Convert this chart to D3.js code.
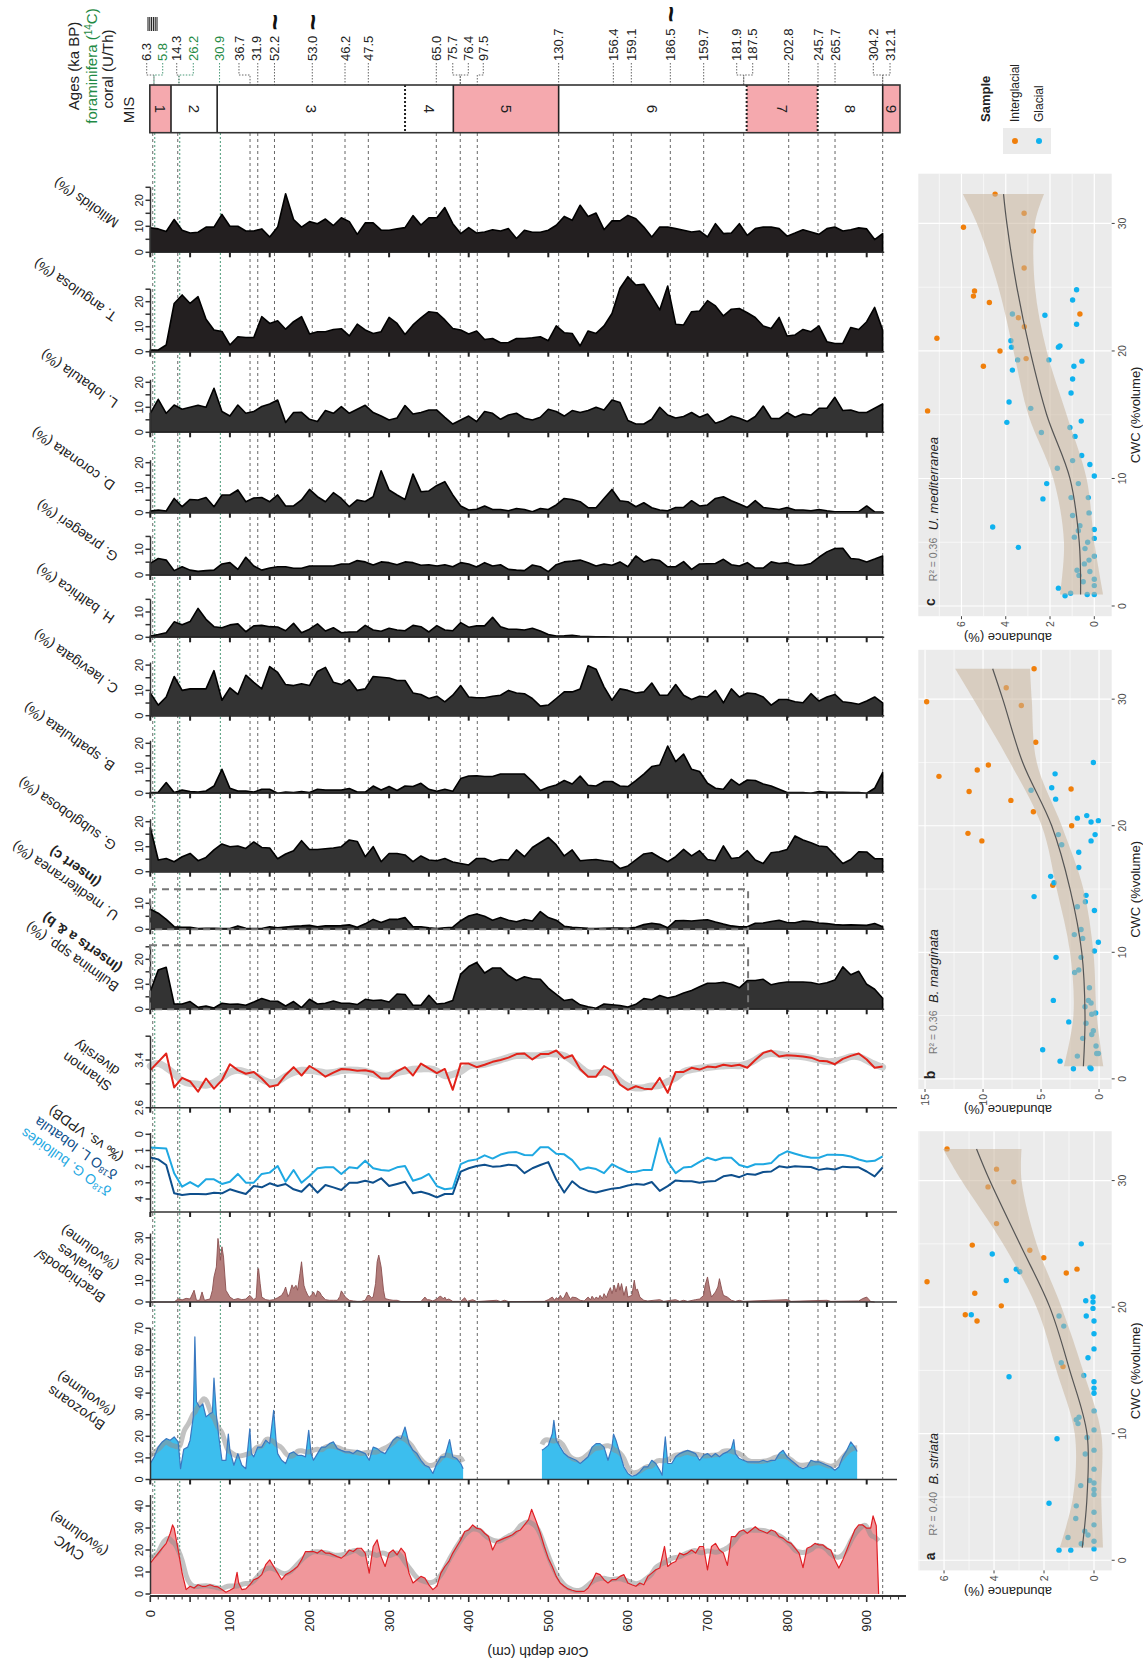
<!DOCTYPE html>
<html>
<head>
<meta charset="utf-8">
<script src="https://cdnjs.cloudflare.com/ajax/libs/d3/7.8.5/d3.min.js"></script>
<style>
  body { margin: 0; background: #fff; }
  svg { display: block; font-family: "Liberation Sans", Arial, Helvetica, sans-serif; }
</style>
</head>
<body>
<svg id="chart" width="1143" height="1661"></svg>
<script>
// ---------- data ----------
// foraminifera / Shannon / d18O sample depths (cm)
var foramDepth = [0,10,20,30,40,50,60,70,80,90,100,110,120,130,140,150,160,170,180,190,200,210,220,230,240,250,260,270,280,290,300,310,320,330,340,350,360,370,380,390,400,410,420,430,440,450,460,470,480,490,500,510,520,530,540,550,560,570,580,590,600,610,620,630,640,650,660,670,680,690,700,710,720,730,740,750,760,770,780,790,800,810,820,830,840,850,860,870,880,890,900,910,920];

var miliolids = [9.4,9,8,12.6,8.5,7.4,7.7,9.7,9.7,14.6,10,10,8.2,8.2,9,5.9,9.7,22.5,12.6,9.7,11.8,11,12.8,10.3,13.3,11.8,6.9,11.3,11.3,8.5,8.5,9,9.5,14.1,10.5,13.3,13.3,17.2,11,7.2,9.5,7.4,7.8,8.7,8.2,9.1,5.3,8.5,7.7,7.7,8.5,10.4,13.8,12.3,18.1,13.8,15.1,8.7,12.1,12.1,14.2,12.9,9.7,5.9,9.7,9.7,9.1,8.5,7.8,8.2,5.9,11,7.2,7.4,11,6.5,9.1,9.7,9.7,9.1,6.2,7.4,8.7,7.8,6.9,9.1,9.7,8.2,8.7,9.4,9,4.9,7.2];
var tAngulosa = [0.7,0.7,2.7,19.3,22.7,19.3,22,13,8.7,8.1,2.7,6,5.7,5.7,14,11.3,12.4,9,12,14,7.1,8,8,8.9,9.2,6.3,11,8.7,7.3,8,13.7,11.3,6.9,10.7,13.5,16,15.6,12.7,9.3,8.7,7.1,8.3,4.9,5.3,3.6,3.7,5.3,5.3,5.6,6,4.4,10.3,7.6,7.3,2.3,8.3,7.3,10.3,15.3,25.3,30,26.7,27,22,16.7,26.3,11,10.7,16,16.3,20.4,18.3,14.3,17,17.3,15.6,13.7,10.3,9.3,13.7,6.3,6.7,8.9,8,10.3,4,3.3,3.3,9.7,8.9,12,17.7,8.7];
var lLobatula = [7.6,13.2,7.6,10.9,9.2,10,10.8,10,17.6,8.3,6.5,10.9,7.6,8.3,10.3,11.3,12.9,3.9,7.9,8,5.2,4.3,8.7,7.6,10.3,7.6,9.2,10.8,7.9,6.5,4.9,5.7,10.7,7.3,7.9,8.9,8.9,6,3.3,4.9,6.5,4.3,8.3,7.6,5.2,6.9,7.6,5.6,4.9,6,9.2,8.3,6.5,8.7,7.9,8.7,10,8.9,12.9,11.9,4.7,3.3,3.3,5.2,10,6.9,5.7,6.3,7.9,6,7.3,3.6,4.7,6.5,5.6,4.3,6.3,10.5,5.5,5.5,7.9,6,7.3,6.9,9.6,9.6,14,8.7,8.9,7.9,7.9,9.6,11.3];
var dCoronata = [0.7,1.1,0.7,5.7,2.4,5.3,5.1,6.1,2.4,7.1,7.1,9.1,4.4,5.9,6.1,4.4,7.1,2.7,2.7,5.1,9.3,6.4,4.4,8,5.7,2.4,5.1,4.5,6.4,16.8,9.1,7.1,5.3,15.5,8.4,8.7,10.9,12.4,7.1,2.7,1.1,1.4,2.7,1.3,1.3,0.8,1.7,1.3,0.4,1.7,1.3,3.1,5.7,5.3,4.4,2,2,5.7,9.3,4.8,4.4,2.4,4,2,1.1,0.8,2.1,2.1,4.8,2.7,3.1,5.7,6.4,4.8,3.5,2.1,4.8,2.1,1.7,1.3,2.1,1.1,1.1,0.8,1.3,0.8,0.4,0.4,0.4,0.4,2.7,0.3,0.3];
var gPraegeri = [4.5,6.4,5.8,1.7,3.2,1.9,1.4,1.7,1.9,4.3,4.8,2.2,6.9,3.5,1.9,2.7,3.2,3.2,2.6,2.6,3.5,3.5,3.5,3.5,4.3,4.3,5.6,5.1,3.9,5.1,4.8,4,5.1,4.8,3.8,4,3.5,4,3.2,4.8,4.3,3.1,4.8,3.5,4,2.2,1.9,1.7,3.9,3.2,1.3,4,5.1,5.4,5.8,4.8,3.5,4.3,3.8,5.1,3.2,7.4,5.1,6.1,5.6,3.2,3.2,5.2,2.2,4.3,4.4,4.5,6.1,4,3.5,4.8,2.7,2.7,5.1,4.5,4.8,3.8,3.8,4.5,6.9,9,10.3,10.4,6.4,6.1,5.1,6.2,7.4];
var hBalthica = [0.5,1.1,1.8,6.1,5,6.2,11.4,7.1,4.2,3.8,4.9,5.3,2.2,4.5,4.7,4.2,4.1,2.6,5.5,1.8,3.2,5.3,2.5,3.8,1.8,2.1,2.2,4.7,2.9,2.4,3.6,2.9,2.6,4.7,4.2,2.1,4.6,2.9,2.6,5.8,4,4.5,4.5,7.9,4.2,3.2,3.2,2.9,3.6,2.5,1.1,0.5,0.6,0.8,0.4,0.3,0.2,0.2,0.1,0,0,0,0,0,0,0,0,0,0,0,0,0,0,0,0,0,0,0,0,0,0,0,0,0,0,0,0,0,0,0,0,0,0];
var cLaevigata = [9,4.2,7.4,15.5,10,10.6,10.6,10.6,17.8,6.1,11,8.4,16,13.2,10.6,19.4,17.1,12.3,11.9,12.6,11.9,17.5,19.1,13.2,12.3,14.2,10,10.6,15.5,15.2,14.9,13.9,13.9,9,8.4,6.8,7.7,5.5,8.1,11.9,7.4,7.1,7.1,7.7,8.1,10,9,8.7,6.8,3.8,4.2,6.8,9.4,9.4,10.6,19.7,18.4,11.4,6.1,10.6,10,9,9.4,12.9,8.1,8.1,12.3,8.1,6.4,7.7,7.4,10,5.1,10.6,7.4,9,8.7,7.4,4.2,6.4,6.4,5.5,5.1,8.7,5.8,7.4,8.4,5.5,5.1,4.5,5.8,7.4,5.1];
var bSpathulata = [0.3,0.4,4.3,0.3,1.3,0.7,0.5,0.9,2.9,9.6,2,0.9,0.9,0.5,1.6,1.6,0,0.5,0.3,0.7,0.3,1.6,1.3,1.3,1.3,1.9,0.5,0.5,2.9,1.3,2.7,1.1,2.9,2.7,4,1.6,0.8,1.6,0.8,5.9,6.9,7,6.7,6.7,7.7,7.7,7.7,7.7,4.7,1.1,2.4,3.3,5.1,3.7,6.9,3.2,2.9,4.7,4.7,2.9,2.7,5.1,7.7,10.7,11.3,18.9,12.7,15.7,9.6,8.7,4,2,1.6,5.6,3.3,5.3,5.1,3.7,2.9,1.6,0.3,0.3,0.3,0,0.7,0.4,0.4,0.4,0.3,0.3,0,2,8.3];
var gSubglobosa = [17.7,4.7,5.3,4,6,7.3,4.4,5.7,8.7,11.1,10,10.3,9.3,11.9,9.7,9.5,5.2,7.1,8.4,12.4,8.9,8.9,9.2,9.5,10,12.7,12.1,6,10,4,7.3,7.3,6.7,4,6.3,4.7,4.4,5.3,3.9,3.3,2.7,5.3,5.3,4,4.9,4.7,8.7,6,9.7,11.7,13.7,10.7,6.3,8.7,4.4,4.7,4.9,4.4,4,1.3,2.3,4.7,7.1,7.6,5.7,4,6,8.9,6.3,8.4,4.9,4.4,10.3,5.3,5.7,8.4,4.7,3.3,7.6,8,8.9,14.3,12.7,11.6,10.3,10,6.7,3.3,4.9,8,7.9,5.2,5.2];
var uMediterranea = [7.7,6.2,3.8,1,0.8,0.8,0.3,0.4,0.4,0.3,0.3,1.3,0.4,0.3,0.3,1,0.6,0.9,1.2,1.3,1.5,1,1.3,1.3,1.4,1.7,0.8,2.1,3.8,2.6,3.8,3.8,4.5,1,1,0.6,0.3,0.6,0.8,3.3,5.1,5.9,5,3.5,4.5,3.5,2.9,3.8,3.2,6.8,4.5,3.5,1.2,0.8,0.6,0.4,0.3,0.4,0.5,0.5,0.4,0.8,1.8,2.3,1.9,0.6,3.3,3.4,3.2,3.5,3.7,2.8,2,1.3,1,1,2.3,2.4,3,3.5,2.6,2.5,3.2,3,2.4,2.2,1.8,1.6,1.7,1.6,1.5,2.2,1];
var bulimina = [7.1,15.7,16.8,2.1,2.1,3.1,0.8,1.3,0.5,2.4,2,2.1,1.6,2.9,4.3,3.3,3.2,1.3,3.1,0.7,4,2.1,2.4,3.3,2.4,2.4,1.9,4,3.5,3.7,2.9,6.1,5.9,1.6,1.6,5.6,2.1,2.4,3.5,14.1,17.1,18.7,14.5,16.5,16.5,13.5,11.5,13,12.2,12,8.5,6,3.5,4,1.8,1,0.4,2.1,1.8,1.5,0.9,2,4.3,3.8,5.5,4.5,5.2,6.5,7.5,9,10.4,10.4,10.8,10,8.6,11.5,11.5,12,9.8,10.5,10.9,10.9,10.9,10.7,10,10.6,11.7,17,13.8,15.2,10,8,4.4];
var shannon = [3.23,3.37,3.51,2.94,3.1,3.04,2.87,3.09,2.92,3.06,3.33,3.23,3.17,3.2,3.09,2.95,2.98,3.15,3.28,3.14,3.3,3.22,3.12,3.19,3.25,3.24,3.22,3.23,3.2,3.09,3.09,3.21,3.28,3.14,3.34,3.26,3.18,3.25,2.9,3.34,3.34,3.28,3.32,3.37,3.4,3.44,3.5,3.51,3.41,3.5,3.5,3.56,3.43,3.48,3.25,3.12,3.12,3.3,3.22,2.99,2.9,2.96,2.92,2.91,3.1,2.85,3.2,3.2,3.27,3.24,3.29,3.28,3.32,3.3,3.32,3.27,3.4,3.52,3.56,3.46,3.48,3.47,3.46,3.44,3.39,3.38,3.33,3.42,3.47,3.51,3.41,3.27,3.29];
var d18oBulloides = [0.82,0.85,0.88,2.41,3.24,2.95,3.24,2.78,2.78,3.07,2.93,2.45,2.99,2.99,2.45,2.37,1.96,2.93,2.21,2.99,2.58,2.1,2.04,2.04,2.45,2.04,2.1,1.63,2.1,2.21,2.25,2.04,1.96,2.87,2.72,2.45,3.2,3.4,3.34,1.84,1.63,1.55,1.3,1.5,1.25,1.13,1.1,1.28,1.3,0.8,0.8,1.2,1.24,1.6,2.2,2.05,2.15,2.4,1.85,2.1,2.33,2.32,2.2,2.2,0.25,1.7,2.4,2.05,2,1.7,1.45,1.6,1.45,1.45,1.9,2.04,1.85,1.85,1.78,1.3,1.05,1.2,1.34,1.45,1.45,1.27,1.27,1.28,1.37,1.56,1.68,1.64,1.36];
var d18oLobatula = [1.44,1.55,1.9,3.65,3.75,3.69,3.69,3.71,3.61,3.65,3.4,3.55,3.69,3.2,3.28,3.03,3.2,3.07,3.4,3.55,3.07,3.61,3.13,3.28,3.44,2.99,2.99,2.87,2.99,2.72,3.2,3.07,2.93,3.65,3.55,3.69,3.9,3.69,3.69,2.31,2.1,1.96,1.88,2,1.98,1.88,1.93,2.4,2.1,1.9,1.72,2.8,3.6,2.9,3.3,3.5,3.6,3.47,3.36,3.3,3.17,3.08,3.12,2.95,3.5,3.2,2.85,2.9,2.9,3,2.92,2.88,2.6,2.52,2.65,2.45,2.5,2.33,2.3,1.98,2.05,1.98,2,2.02,2.2,2.12,2.18,2,2.03,2.04,2.3,2.6,2.05];

// [depth cm, %volume]
var cwc = [[0,14],[5,16.3],[10,18.6],[15,20.8],[20,23],[25,27.6],[28,31.4],[30,29.9],[35,20],[40,9.5],[45,2],[50,3.5],[55,2.7],[60,4.2],[65,3.5],[70,3.5],[75,4.2],[80,3.5],[85,3.2],[90,2],[95,0.8],[100,1.7],[105,2.7],[109,9.8],[111,5],[115,2],[120,2.3],[125,4.2],[130,6.5],[135,7.2],[140,8.8],[145,13.3],[150,15.5],[155,12.5],[160,9.5],[165,6.5],[170,8.8],[175,9.8],[180,11],[185,12.5],[190,15.5],[195,19.3],[200,19.3],[205,19.3],[210,18.6],[215,20],[220,18.6],[225,18.6],[230,17.8],[235,17],[240,16.3],[245,17.8],[250,20],[255,19.3],[260,20.8],[265,20.8],[270,18.6],[275,9.5],[280,21.6],[285,24.6],[290,17],[295,12.5],[300,18.6],[305,20],[310,17.8],[315,20.8],[320,18.6],[325,9.5],[330,5],[335,6.5],[340,8],[345,7.2],[350,4.2],[355,2],[360,3.5],[365,9.5],[370,12.5],[375,14.8],[380,18.6],[385,21.6],[390,24.6],[395,28.4],[400,29.1],[405,31.4],[410,29.9],[415,29.5],[420,27.6],[425,26.1],[430,20],[435,23.8],[440,24.6],[445,25.4],[450,26.1],[455,26.9],[460,28.4],[465,29.1],[470,31.4],[475,33.7],[479,38.5],[485,32.9],[490,27.6],[495,21.6],[500,16.3],[505,12.5],[510,8],[515,5],[520,3.5],[525,2.3],[530,1.7],[535,1.2],[540,1.2],[545,1.2],[550,2.7],[555,5.7],[560,9.5],[565,8.8],[570,6.5],[575,5],[580,6.5],[585,6.5],[590,8],[595,8.8],[600,5],[605,4.2],[610,3.5],[615,5],[620,4.2],[625,8],[630,9.5],[635,11],[640,11.8],[646,21.6],[650,12.5],[655,14],[660,14.8],[665,18.6],[670,17.8],[675,18.6],[680,20],[685,18.6],[690,21.6],[695,21.6],[700,11],[705,21.6],[710,23],[715,20],[720,18.6],[725,13],[730,26.1],[735,26.1],[740,28.4],[745,29.1],[750,27.6],[755,29.1],[760,30.6],[765,29.1],[770,28.4],[775,27.6],[780,29.1],[785,28.4],[790,26.1],[795,25.4],[800,23.8],[805,23],[810,20.8],[815,18.6],[820,12],[825,20.8],[830,21.6],[835,23],[840,22.3],[845,22.3],[850,20.8],[855,20],[860,15.5],[865,11.8],[870,15.5],[875,20],[880,24.6],[885,29.1],[890,31.4],[895,31.4],[900,29.9],[905,29.9],[908,35.5],[912,31],[915,0]];

var bryozoans = [[0,7.4],[5,10.5],[10,15],[15,17.4],[20,18.9],[25,18.2],[30,19.7],[35,17.4],[38,5],[42,14],[47,15],[50,18.2],[54,29],[56,66],[58,36],[62,33.5],[66,35],[70,29],[75,30.5],[78,31],[80,47],[83,30],[86,20],[90,8.9],[95,8.9],[98,21],[100,13.5],[105,6.6],[110,12],[115,6.6],[120,5],[125,23.5],[127,12],[130,10.5],[135,15],[140,15],[145,18.2],[150,16.6],[155,32],[158,18],[160,12],[165,8.9],[170,7.4],[175,12],[180,12.8],[185,11.2],[190,11.2],[195,10.5],[199,22.8],[202,12],[205,8.9],[210,12],[215,15],[220,15],[225,16.6],[230,17.4],[235,14.3],[240,13.5],[245,12.8],[250,12.8],[255,12],[260,13.5],[265,12.8],[270,12],[275,8.9],[280,15],[285,14.3],[290,12.8],[295,12],[300,15],[305,18.2],[310,19.7],[315,18.9],[320,24.3],[325,16.6],[330,13.5],[335,12],[340,8.9],[345,6.6],[350,5.8],[355,2.8],[360,7.4],[365,10.5],[370,10.5],[376,18.5],[380,10.5],[385,9.7],[390,7.4],[393,5],[440,null],[492,13.5],[495,14.3],[500,15.8],[505,21.2],[507,27.4],[510,18.2],[515,15],[520,12],[525,10.5],[530,9.7],[535,8.9],[540,7.4],[545,8.9],[550,10.5],[555,15],[560,16.6],[565,16.6],[570,15],[575,8.9],[580,15],[582,21],[585,18.2],[590,12],[595,5.8],[600,2.8],[605,1.5],[610,2],[615,3.5],[620,5.8],[625,5.8],[630,8.9],[635,7.4],[640,4.3],[643,2],[645,12],[647,19.7],[650,7.4],[655,7.4],[660,10.5],[665,12],[670,12.8],[675,13.5],[680,12.8],[685,12],[690,8.9],[695,11.2],[700,12],[705,10.5],[710,12],[715,10.5],[720,12],[725,12.8],[730,14.3],[733,18.5],[735,12],[740,9.7],[745,8.9],[750,8.2],[755,8.2],[760,8.2],[765,8.2],[770,8.9],[775,8.2],[780,8.9],[785,8.9],[790,12],[795,13.5],[800,10.5],[805,8.9],[810,7.4],[815,5.8],[820,5],[825,5.8],[830,8.9],[835,8.2],[840,8.2],[845,7.4],[850,6.6],[855,5.8],[860,4.3],[865,5.8],[870,10.5],[875,13.5],[880,17.4],[885,15],[888,13]];

var brachiopods = [[0,0],[30,0],[35,1.5],[40,1],[45,1.7],[50,1.4],[55,5.5],[58,0.8],[62,0.8],[65,4.7],[68,0.8],[75,1.4],[78,5.5],[80,11.7],[83,16.4],[85,29.7],[87,24.2],[88,19.5],[90,25.8],[92,21],[95,5.5],[100,2.3],[105,1.1],[110,1.6],[115,1.1],[120,1.4],[125,3.1],[130,1.1],[133,2],[135,14.8],[136,15.6],[138,8.6],[140,2.3],[145,1.1],[150,0.8],[155,1.1],[160,2],[165,3.1],[168,5],[170,7],[173,2.5],[175,3.9],[178,8],[180,6.3],[183,7.8],[185,5.5],[188,13.3],[190,18.8],[193,7.8],[195,5.5],[198,3],[200,2.3],[203,3.5],[205,4.7],[208,2.5],[210,5.2],[213,4.5],[215,3.1],[220,1.1],[225,0.8],[230,0.8],[235,0.8],[238,2.5],[240,5.2],[243,3.5],[245,2.3],[250,0.8],[255,0.5],[260,0.3],[265,0.3],[270,0.8],[273,3],[275,3.1],[278,2],[280,2.3],[283,8.6],[285,18.8],[287,21.9],[290,16.4],[293,5.5],[295,1.6],[300,1.1],[305,0.8],[310,0.8],[315,0.2],[340,0.2],[343,1.5],[345,2.3],[348,1],[350,1.1],[355,0.5],[360,1.4],[363,2.5],[365,2.7],[368,1.5],[370,2.3],[372,1],[375,1.4],[380,0.3],[390,0.3],[395,2],[398,0.3],[405,1.1],[410,0.2],[435,0.8],[440,0.2],[445,0.8],[450,0.2],[495,0.3],[500,1.1],[505,2.3],[508,0.8],[510,2],[513,1.2],[515,3.1],[518,1.5],[520,2.3],[523,4.7],[525,3.1],[528,1.2],[530,2.3],[535,2],[540,0.8],[545,0.5],[550,2.3],[553,1],[555,2.7],[558,1.2],[560,2.3],[563,1.5],[565,3.1],[568,1.5],[570,3.9],[573,2],[575,4.2],[578,6.7],[580,3.9],[583,7.8],[585,4.7],[588,8.9],[590,5.5],[592,8.6],[595,3.1],[598,7.3],[600,2.3],[605,3.1],[608,10.2],[610,5.5],[612,6],[615,2.3],[620,0.8],[625,0.5],[640,1.1],[645,0.3],[660,1.1],[665,0.3],[670,0.8],[675,0.3],[685,1.1],[690,1.4],[695,3],[697,7.8],[700,11.7],[703,5.5],[705,2.3],[710,4.7],[713,7],[715,10.9],[718,5.8],[720,3.1],[725,2.3],[730,0.8],[735,0.3],[740,0.8],[745,0.3],[800,1.1],[805,0.3],[850,0.8],[855,0.3],[890,0.5],[895,1.6],[900,2.3],[903,1.1],[905,0.2],[910,0]];

// ages (ka BP) header
var ageLabels = ['6.3','5.8','14.3','26.2','30.9','36.7','31.9','52.2','53.0','46.2','47.5','65.0','75.7','76.4','97.5','130.7','156.4','159.1','186.5','159.7','181.9','187.5','202.8','245.7','265.7','304.2','312.1'];
var ageLabelDepth = [-4.5,15.6,33.2,54,86.3,111.4,133.7,156,203.5,244.6,273.9,359.3,380,399.5,418.3,513,581.7,604.3,653.3,695.2,736.7,756.8,802,838.8,860.2,908.3,929.3];
var ageTieDepth = [4.6,4.6,36,36,87,125.3,135,156,203.5,244.6,273.9,359.3,389.4,389.4,410.8,513,581.7,604.3,653.3,695.2,745.5,745.5,802,838.8,860.2,920.1,920.1];
var ageForam = [0,1,0,1,1,0,0,0,0,0,0,0,0,0,0,0,0,0,0,0,0,0,0,0,0,0,0];
var approxAges = ['52.2','53.0','186.5'];

// marine isotope stages
var misLabels = ['1','2','3','4','5','6','7','8','9'];
var misBounds = [-0.6,26,84,320,380.7,513,749.2,838.4,920.1,941.8];
var misWarm = [1,0,0,0,1,0,1,0,1];
var misDotted = [0,0,1,0,0,1,1,0];

// inset scatter data: [CWC %volume, abundance %, I=interglacial / G=glacial]
var striataPts = [[32.5,5.88,'I'],[30.9,3.9,'I'],[29.5,4.24,'I'],[29.9,3.21,'I'],[26.6,3.9,'I'],[24.9,4.87,'I'],[24.5,2.57,'I'],[23.9,2.01,'I'],[22,6.68,'I'],[22.7,1.11,'I'],[23,0.68,'I'],[21.1,4.77,'I'],[20.1,3.71,'I'],[19.4,5.15,'I'],[18.9,4.68,'I'],[15.3,1.24,'I'],
 [25,0.51,'G'],[24.2,4.07,'G'],[23,3.11,'G'],[22.8,2.97,'G'],[22.1,3.51,'G'],[20.5,0.33,'G'],[20.8,0.04,'G'],[20.4,0.04,'G'],[19.9,0.04,'G'],[19.3,0.31,'G'],[19.3,1.4,'G'],[19.4,4.91,'G'],[18.9,0,'G'],[18.5,1.21,'G'],[17.9,0,'G'],[16.7,0,'G'],[16,0.24,'G'],[15.6,1.31,'G'],[14.5,3.4,'G'],[14.6,0.41,'G'],[14.1,0,'G'],[13.6,0,'G'],[13.2,0,'G'],[11.8,0,'G'],[11.3,0.6,'G'],[11.1,0.71,'G'],[10.8,0.64,'G'],[10.3,0,'G'],[9.6,1.48,'G'],[9.7,0.28,'G'],[8.7,0,'G'],[8.4,0.35,'G'],[7.2,0,'G'],[6.3,0.17,'G'],[6.1,0,'G'],[5.9,0.53,'G'],[5.6,0,'G'],[5.2,0,'G'],[4.5,1.8,'G'],[4.3,0.71,'G'],[3.8,0,'G'],[3.3,0.73,'G'],[2.8,0,'G'],[2.3,0.37,'G'],[2,0.24,'G'],[1.8,1.04,'G'],[1.5,0,'G'],[1.3,0.51,'G'],[0.9,0,'G'],[0.8,1.4,'G'],[0.8,0.93,'G']];
var marginataPts = [[32.4,5.6,'I'],[30.9,8,'I'],[29.5,6.7,'I'],[29.8,14.86,'I'],[26.6,5.46,'I'],[24.8,9.54,'I'],[23.9,13.8,'I'],[24.4,10.5,'I'],[22.9,2.41,'I'],[22.7,11.2,'I'],[22,7.6,'I'],[21.1,5.66,'I'],[20,2.36,'I'],[19.4,11.3,'I'],[18.8,10.1,'I'],[15.3,3.99,'I'],
 [25,0.49,'G'],[24.1,3.79,'G'],[23,4.08,'G'],[22.8,5.86,'G'],[22.1,3.74,'G'],[20.6,1.87,'G'],[20.8,1.06,'G'],[20.3,0.69,'G'],[20.4,0.06,'G'],[19.3,3.51,'G'],[19.3,0.34,'G'],[18.8,0.69,'G'],[18.5,3.22,'G'],[17.9,1.75,'G'],[16.7,1.75,'G'],[16,4.17,'G'],[15.5,3.88,'G'],[14.4,5.6,'G'],[14.5,1.12,'G'],[14,1.18,'G'],[13.6,1.87,'G'],[13.3,0.4,'G'],[11.8,1.55,'G'],[11.4,2.13,'G'],[11.1,1.41,'G'],[10.8,0.06,'G'],[10.1,0.4,'G'],[9.6,3.71,'G'],[9.6,1.55,'G'],[8.4,2.1,'G'],[8.6,1.75,'G'],[7.2,0.83,'G'],[6.2,0.92,'G'],[6.2,3.94,'G'],[6,0.69,'G'],[5.7,1.21,'G'],[5.1,0.63,'G'],[5.2,0.29,'G'],[4.5,2.61,'G'],[4.4,1.12,'G'],[3.8,0.49,'G'],[3.2,1.41,'G'],[3.5,0.63,'G'],[2.3,4.86,'G'],[2.6,0.26,'G'],[1.8,1.87,'G'],[2,0.06,'G'],[2,0.2,'G'],[1.4,3.36,'G'],[0.9,0.78,'G'],[0.8,2.21,'G'],[0.8,0.69,'G']];
var mediterraneaPts = [[32.3,4.48,'I'],[30.8,3.17,'I'],[29.7,5.91,'I'],[29.4,2.75,'I'],[26.5,3.17,'I'],[24.7,5.41,'I'],[24.3,5.46,'I'],[23.8,4.74,'I'],[22.9,0.65,'I'],[22.6,3.43,'I'],[21.9,3.16,'I'],[21,7.11,'I'],[20,4.26,'I'],[19.4,3.08,'I'],[18.8,5.01,'I'],[15.3,7.53,'I'],
 [22.9,3.7,'G'],[24.8,0.8,'G'],[24,0.98,'G'],[22.8,2.23,'G'],[22.1,0.8,'G'],[20.8,3.77,'G'],[20.3,3.74,'G'],[20.4,1.55,'G'],[20.3,1.62,'G'],[19.3,2.05,'G'],[19.3,3.46,'G'],[18.8,0.92,'G'],[19.2,0.56,'G'],[18.5,3.7,'G'],[17.8,0.98,'G'],[16,3.85,'G'],[15.5,2.87,'G'],[16.7,1.05,'G'],[14.4,3.95,'G'],[14.5,0.59,'G'],[14,1.1,'G'],[13.6,2.39,'G'],[13.3,0.87,'G'],[11.8,0.57,'G'],[11.4,0.98,'G'],[11.1,0.2,'G'],[10.8,1.67,'G'],[10.2,0,'G'],[9.6,2.15,'G'],[9.6,0.72,'G'],[8.4,2.32,'G'],[8.5,1.05,'G'],[8.5,0.27,'G'],[7.1,0.98,'G'],[7.3,0.24,'G'],[6.2,4.59,'G'],[6.3,0.65,'G'],[5.9,0.72,'G'],[6,0,'G'],[5.4,0.9,'G'],[5,0.3,'G'],[5.3,0,'G'],[4.6,3.43,'G'],[4.5,0.42,'G'],[3.9,0,'G'],[3.6,0.24,'G'],[3.3,0.45,'G'],[2.8,0.78,'G'],[2.7,0.2,'G'],[2.4,0.69,'G'],[1.9,0.5,'G'],[2.1,0,'G'],[1.6,0,'G'],[1.4,1.62,'G'],[1,1.07,'G'],[0.8,1.32,'G'],[0.9,0.32,'G'],[0.9,0,'G']];
// smooth fits: [CWC, fit, lower, upper]
var striataFit = [[1,0.47,-0.36,1.37],[5,0.28,-0.29,0.84],[10,0.28,-0.29,0.77],[15,0.97,0.44,1.5],[20,1.77,1.3,2.3],[25,2.97,2.3,3.64],[30,4.17,2.9,5.3],[32.5,4.7,2.9,6.04]];
var marginataFit = [[1,1.35,-0.37,3.02],[5,1.21,0.2,2.21],[10,1.49,0.49,2.5],[15,2.5,1.35,3.65],[20,4.08,3.22,4.94],[25,6.58,5.37,7.67],[30,8.3,5.8,10.83],[32.4,9.17,5.95,12.4]];
var mediterraneaFit = [[0.9,0.62,-0.4,1.55],[5,0.68,0,1.37],[10,1.1,0.35,1.85],[15,2.15,1.25,2.98],[20,2.9,2.15,3.65],[25,3.5,2.68,4.33],[30,3.95,2.68,5.3],[32.3,4.1,2.27,5.94]];

// ---------- drawing ----------
var GREEN = '#1f8a45', INK = '#222';
var svg = d3.select('#chart');
svg.append('rect').attr('width', 1143).attr('height', 1661).attr('fill', '#fff');

var x = d3.scaleLinear().domain([0, 900]).range([150.3, 866.7]);
var AXX = 150.5;

function rtext(parent, px, py, angle, str, size) {
    return parent.append('text')
        .attr('transform', 'translate(' + px + ',' + py + ') rotate(' + angle + ')')
        .attr('font-size', size).attr('fill', INK).text(str);
}

// tie lines
var gTies = svg.append('g');
var tieSeen = {};
ageTieDepth.forEach(function(d, i) {
    var key = d.toFixed(1);
    if (!tieSeen[key]) tieSeen[key] = {grey: false, green: false};
    if (ageForam[i]) tieSeen[key].green = true; else tieSeen[key].grey = true;
});
Object.keys(tieSeen).forEach(function(key) {
    var t = tieSeen[key], xx = x(+key);
    if (t.grey) gTies.append('line').attr('x1', t.green ? xx - 1.2 : xx).attr('x2', t.green ? xx - 1.2 : xx)
        .attr('y1', 133).attr('y2', 1594).attr('stroke', '#666').attr('stroke-width', 1).attr('stroke-dasharray', '3,3');
    if (t.green) gTies.append('line').attr('x1', xx + 0.8).attr('x2', xx + 0.8)
        .attr('y1', 133).attr('y2', 1594).attr('stroke', '#4a9a78').attr('stroke-width', 1).attr('stroke-dasharray', '2,2');
});

// header: ages
var head = svg.append('g');
ageLabels.forEach(function(lab, i) {
    var lx = x(ageLabelDepth[i]), tx = x(ageTieDepth[i]);
    var col = ageForam[i] ? GREEN : INK;
    rtext(head, lx, 61, -90, lab, 13).attr('dy', '0.35em').attr('fill', col);
    var p = Math.abs(lx - tx) < 2 ? 'M' + tx + ',63V85' : 'M' + lx + ',63V75H' + tx + 'V85';
    head.append('path').attr('d', p).attr('fill', 'none')
        .attr('stroke', ageForam[i] ? '#4a9a78' : '#666').attr('stroke-width', 1).attr('stroke-dasharray', '1.5,1.5');
    if (approxAges.indexOf(lab) >= 0) {
        rtext(head, lx + 1, lab.length > 4 ? 14 : 22, -90, '~', 28).attr('text-anchor', 'middle')
            .attr('dy', '0.3em').attr('font-weight', 'bold').attr('fill', '#111');
    }
});
for (var k = 0; k < 6; k++) {
    head.append('line').attr('x1', 148 + k * 1.8).attr('x2', 148 + k * 1.8).attr('y1', 17).attr('y2', 31)
        .attr('stroke', '#111').attr('stroke-width', 1);
}
rtext(head, 74, 66, -90, 'Ages (ka BP)', 15).attr('text-anchor', 'middle').attr('dy', '0.35em');
var foramT = rtext(head, 92, 66, -90, '', 15).attr('text-anchor', 'middle').attr('dy', '0.35em').attr('fill', GREEN);
foramT.append('tspan').text('foraminifera (');
foramT.append('tspan').attr('font-size', 10).attr('dy', -5).text('14');
foramT.append('tspan').attr('dy', 5).text('C)');
rtext(head, 108, 69, -90, 'coral (U/Th)', 15).attr('text-anchor', 'middle').attr('dy', '0.35em');
rtext(head, 129, 110, -90, 'MIS', 15).attr('text-anchor', 'middle').attr('dy', '0.35em');

// MIS bar
var mis = svg.append('g');
misLabels.forEach(function(lab, i) {
    var x0 = x(misBounds[i]), x1 = x(misBounds[i + 1]);
    mis.append('rect').attr('x', x0).attr('y', 85).attr('width', x1 - x0).attr('height', 47.7)
        .attr('fill', misWarm[i] ? '#f5a9ae' : '#fff');
    rtext(mis, (x0 + x1) / 2, 109, 90, lab, 15).attr('text-anchor', 'middle').attr('dy', '0.35em');
});
for (var b = 1; b < misBounds.length - 1; b++) {
    mis.append('line').attr('x1', x(misBounds[b])).attr('x2', x(misBounds[b])).attr('y1', 85).attr('y2', 132.7)
        .attr('stroke', '#222').attr('stroke-width', misDotted[b - 1] ? 2 : 1.6)
        .attr('stroke-dasharray', misDotted[b - 1] ? '2,2' : null);
}
mis.append('rect').attr('x', x(misBounds[0])).attr('y', 85)
    .attr('width', x(misBounds[misBounds.length - 1]) - x(misBounds[0])).attr('height', 47.7)
    .attr('fill', 'none').attr('stroke', '#333').attr('stroke-width', 1.6);

// helpers for panels
function depthTicks(y, endX) {
    svg.append('line').attr('x1', 150).attr('x2', endX).attr('y1', y).attr('y2', y)
        .attr('stroke', '#333').attr('stroke-width', 1.5);
    for (var d = 0; d <= 900; d += 50) {
        svg.append('line').attr('x1', x(d)).attr('x2', x(d)).attr('y1', y).attr('y2', y + 5)
            .attr('stroke', '#222').attr('stroke-width', 2);
    }
}
function yAxis(yS, top, ticks, labels, fmt) {
    var v0 = yS.domain()[0];
    svg.append('line').attr('x1', AXX).attr('x2', AXX).attr('y1', yS(v0)).attr('y2', yS(top))
        .attr('stroke', '#333').attr('stroke-width', 1.5);
    ticks.forEach(function(t) {
        svg.append('line').attr('x1', AXX - 5).attr('x2', AXX).attr('y1', yS(t)).attr('y2', yS(t))
            .attr('stroke', '#333').attr('stroke-width', 1.5);
    });
    labels.forEach(function(t) {
        rtext(svg, 139, yS(t), -90, fmt ? fmt(t) : t, 11).attr('text-anchor', 'middle').attr('dy', '0.35em');
    });
}
function smooth(pts, half) {
    return pts.map(function(p) {
        if (p[1] == null) return [p[0], null];
        var s = 0, n = 0;
        pts.forEach(function(q) {
            if (q[1] != null && Math.abs(q[0] - p[0]) <= half) { s += q[1]; n++; }
        });
        return [p[0], s / n];
    });
}

// foraminifera panels
var foramPanels = [
    {vals: miliolids, base: 252.3, ppu: 2.6, top: 25, ticks: [0,5,10,15,20,25], labs: [0,10,20], fill: '#231f20'},
    {vals: tAngulosa, base: 351.7, ppu: 2.5, top: 25, ticks: [0,5,10,15,20,25], labs: [0,10,20], fill: '#231f20'},
    {vals: lLobatula, base: 432.3, ppu: 2.5, top: 21, ticks: [0,5,10,15,20], labs: [0,10,20], fill: '#333'},
    {vals: dCoronata, base: 512.7, ppu: 2.5, top: 21, ticks: [0,5,10,15,20], labs: [0,10,20], fill: '#333'},
    {vals: gPraegeri, base: 575, ppu: 2.57, top: 15, ticks: [0,5,10,15], labs: [0,10], fill: '#333'},
    {vals: hBalthica, base: 637.3, ppu: 2.53, top: 15, ticks: [0,5,10,15], labs: [0,10], fill: '#333'},
    {vals: cLaevigata, base: 715.7, ppu: 2.53, top: 21, ticks: [0,5,10,15,20], labs: [0,10,20], fill: '#333'},
    {vals: bSpathulata, base: 793.3, ppu: 2.5, top: 21, ticks: [0,5,10,15,20], labs: [0,10,20], fill: '#333'},
    {vals: gSubglobosa, base: 871.7, ppu: 2.5, top: 21, ticks: [0,5,10,15,20], labs: [0,10,20], fill: '#333'},
    {vals: uMediterranea, base: 929.3, ppu: 2.6, top: 11, ticks: [0,5,10], labs: [0,10], fill: '#333', box: 889.3},
    {vals: bulimina, base: 1009.3, ppu: 2.5, top: 25, ticks: [0,5,10,15,20,25], labs: [0,10,20], fill: '#333', box: 945.3}
];
foramPanels.forEach(function(p) {
    var yS = d3.scaleLinear().domain([0, 1]).range([p.base, p.base - p.ppu]);
    var area = d3.area().x(function(d, i) { return x(foramDepth[i]); }).y0(p.base).y1(function(d) { return yS(d); });
    svg.append('path').datum(p.vals).attr('d', area).attr('fill', p.fill)
        .attr('stroke', '#000').attr('stroke-width', 1.6).attr('stroke-linejoin', 'round');
    depthTicks(p.base, x(922));
    yAxis(yS, p.top, p.ticks, p.labs);
    if (p.box) {
        svg.append('rect').attr('x', 150).attr('y', p.box).attr('width', x(751) - 150).attr('height', p.base - p.box)
            .attr('fill', 'none').attr('stroke', '#777').attr('stroke-width', 2).attr('stroke-dasharray', '7,5');
    }
});

// Shannon diversity
(function() {
    var yS = d3.scaleLinear().domain([2.6, 3.8]).range([1107.7, 1036.2]);
    var pts = foramDepth.map(function(d, i) { return [d, shannon[i]]; });
    var line = d3.line().x(function(d) { return x(d[0]); }).y(function(d) { return yS(d[1]); });
    svg.append('path').datum(smooth(pts, 15)).attr('d', line.curve(d3.curveBasis)).attr('fill', 'none')
        .attr('stroke', '#cfcfcf').attr('stroke-width', 7).attr('stroke-linecap', 'round');
    svg.append('path').datum(pts).attr('d', line.curve(d3.curveLinear)).attr('fill', 'none')
        .attr('stroke', '#e2231a').attr('stroke-width', 2).attr('stroke-linejoin', 'round');
    depthTicks(1107.7, 897);
    yAxis(yS, 3.8, [2.6, 3.0, 3.4, 3.8], [2.6, 3.4], function(t) { return t.toFixed(1); });
})();

// d18O
(function() {
    var yS = d3.scaleLinear().domain([0, 4]).range([1134.3, 1199]);
    var line = d3.line().x(function(d, i) { return x(foramDepth[i]); }).y(function(d) { return yS(d); });
    svg.append('path').datum(d18oLobatula).attr('d', line).attr('fill', 'none')
        .attr('stroke', '#0e4f8c').attr('stroke-width', 2).attr('stroke-linejoin', 'round');
    svg.append('path').datum(d18oBulloides).attr('d', line).attr('fill', 'none')
        .attr('stroke', '#1ea8e2').attr('stroke-width', 2).attr('stroke-linejoin', 'round');
    depthTicks(1212, 897);
    svg.append('line').attr('x1', AXX).attr('x2', AXX).attr('y1', 1133).attr('y2', 1212)
        .attr('stroke', '#333').attr('stroke-width', 1.5);
    [0, 1, 2, 3, 4].forEach(function(t) {
        svg.append('line').attr('x1', AXX - 5).attr('x2', AXX).attr('y1', yS(t)).attr('y2', yS(t))
            .attr('stroke', '#333').attr('stroke-width', 1.5);
        rtext(svg, 139, yS(t), -90, t, 11).attr('text-anchor', 'middle').attr('dy', '0.35em');
    });
})();

// high-resolution volume panels
function volumePanel(data, base, ppu, top, ticks, fill, stroke, lw, withSmooth, endX) {
    var yS = d3.scaleLinear().domain([0, 1]).range([base, base - ppu]);
    var def = function(d) { return d[1] != null; };
    var area = d3.area().defined(def).x(function(d) { return x(d[0]); }).y0(base).y1(function(d) { return yS(d[1]); });
    var line = d3.line().defined(def).x(function(d) { return x(d[0]); }).y(function(d) { return yS(d[1]); });
    svg.append('path').datum(data).attr('d', area).attr('fill', fill);
    if (withSmooth) {
        svg.append('path').datum(smooth(data, 14)).attr('d', line.curve(d3.curveBasis)).attr('fill', 'none')
            .attr('stroke', '#8f8f8f').attr('stroke-opacity', 0.55).attr('stroke-width', 5);
    }
    svg.append('path').datum(data).attr('d', line.curve(d3.curveLinear)).attr('fill', 'none')
        .attr('stroke', stroke).attr('stroke-width', lw).attr('stroke-linejoin', 'round');
    if (endX) depthTicks(base, endX);
    yAxis(yS, top, ticks, ticks);
}
volumePanel(brachiopods, 1302, 2.14, 32, [0, 10, 20, 30], '#b27d7b', '#8a4f4f', 0.9, false, 897);
volumePanel(bryozoans, 1479.5, 2.16, 70, [0, 10, 20, 30, 40, 50, 60, 70], '#3cbeee', '#3a78c0', 1.2, true, 897);
volumePanel(cwc, 1594, 2.2, 45, [0, 10, 20, 30, 40], '#f0979b', '#e01e24', 1.2, true, null);

// bottom depth axis
(function() {
    var y = 1596;
    svg.append('line').attr('x1', 150).attr('x2', 906).attr('y1', y).attr('y2', y)
        .attr('stroke', '#333').attr('stroke-width', 1.8);
    for (var d = 0; d <= 940; d += 10) {
        var major = d % 50 === 0;
        svg.append('line').attr('x1', x(d)).attr('x2', x(d)).attr('y1', y).attr('y2', y + (major ? 6 : 3.5))
            .attr('stroke', '#333').attr('stroke-width', major ? 1.6 : 1);
        if (d % 100 === 0) {
            rtext(svg, x(d), 1610, -90, d, 13).attr('text-anchor', 'end').attr('dy', '0.35em');
        }
    }
    rtext(svg, 538, 1652, 180, 'Core depth (cm)', 14).attr('text-anchor', 'middle').attr('dy', '0.35em');
})();

// panel titles
var PERP = [0.574, -0.819];
function panelTitle(cx, cy, lines) {
    lines.forEach(function(ln, i) {
        var px = cx + i * 17 * PERP[0], py = cy + i * 17 * PERP[1];
        var t = rtext(svg, px, py, -145, '', 14).attr('text-anchor', 'middle').attr('dy', '0.35em');
        if (ln.color) t.attr('fill', ln.color);
        if (ln.bold) t.attr('font-weight', 'bold');
        if (ln.sup) {
            t.append('tspan').text('δ');
            t.append('tspan').attr('font-size', 9).attr('dy', -5).text('18');
            t.append('tspan').attr('dy', 5).text('O ' + ln.text);
        } else {
            t.text(ln.text);
        }
    });
}
panelTitle(86, 203, [{text: 'Miliolids (%)'}]);
panelTitle(75, 290, [{text: 'T. angulosa (%)'}]);
panelTitle(79, 379, [{text: 'L. lobatula (%)'}]);
panelTitle(73, 459, [{text: 'D. coronata (%)'}]);
panelTitle(77, 531, [{text: 'G. praegeri (%)'}]);
panelTitle(75, 594, [{text: 'H. balthica (%)'}]);
panelTitle(76, 662, [{text: 'C. laevigata (%)'}]);
panelTitle(69, 737, [{text: 'B. spathulata (%)'}]);
panelTitle(67, 814, [{text: 'G. subglobosa (%)'}]);
panelTitle(65, 881, [{text: 'U. mediterranea (%)'}, {text: '(Insert c)', bold: true}]);
panelTitle(72, 957, [{text: 'Bulimina spp. (%)'}, {text: '(Inserts a & b)', bold: true}]);
panelTitle(87, 1072, [{text: 'Shannon'}, {text: 'diversity'}]);
panelTitle(66, 1162, [{text: 'G. bulloides', sup: true, color: '#1ea8e2'}, {text: 'L. lobatula', sup: true, color: '#0e4f8c'}, {text: '(‰ vs. VPDB)'}]);
panelTitle(70, 1276, [{text: 'Brachiopods/'}, {text: 'Bivalves'}, {text: '(%volume)'}]);
panelTitle(76, 1408, [{text: 'Bryozoans'}, {text: '(%volume)'}]);
panelTitle(69, 1548, [{text: 'CWC'}, {text: '(%volume)'}]);

// ---------- inset scatter plots ----------
var ORANGE = '#f07f0b', BLUE = '#0fb2ef';
function inset(cfg) {
    var g = svg.append('g');
    var L = 918.3, R = 1111.7;
    var yS = d3.scaleLinear().domain([-0.8, 33.9]).range([cfg.bottom, cfg.top]);
    var xS = d3.scaleLinear().domain(cfg.abDomain).range([R, L]);
    g.append('rect').attr('x', L).attr('y', cfg.top).attr('width', R - L).attr('height', cfg.bottom - cfg.top).attr('fill', '#ebebeb');
    [5, 15, 25].forEach(function(c) {
        g.append('line').attr('x1', L).attr('x2', R).attr('y1', yS(c)).attr('y2', yS(c)).attr('stroke', '#fff').attr('stroke-width', 0.6);
    });
    cfg.abMinor.forEach(function(a) {
        g.append('line').attr('x1', xS(a)).attr('x2', xS(a)).attr('y1', cfg.top).attr('y2', cfg.bottom).attr('stroke', '#fff').attr('stroke-width', 0.6);
    });
    [0, 10, 20, 30].forEach(function(c) {
        g.append('line').attr('x1', L).attr('x2', R).attr('y1', yS(c)).attr('y2', yS(c)).attr('stroke', '#fff').attr('stroke-width', 1.2);
        g.append('line').attr('x1', R).attr('x2', R + 3).attr('y1', yS(c)).attr('y2', yS(c)).attr('stroke', '#444');
        rtext(g, 1122, yS(c), -90, c, 10.5).attr('text-anchor', 'middle').attr('dy', '0.35em').attr('fill', '#4d4d4d');
    });
    cfg.abTicks.forEach(function(a) {
        g.append('line').attr('x1', xS(a)).attr('x2', xS(a)).attr('y1', cfg.top).attr('y2', cfg.bottom).attr('stroke', '#fff').attr('stroke-width', 1.2);
        g.append('line').attr('x1', xS(a)).attr('x2', xS(a)).attr('y1', cfg.bottom).attr('y2', cfg.bottom + 3).attr('stroke', '#444');
        rtext(g, xS(a), cfg.bottom + 5, -90, a, 10.5).attr('text-anchor', 'end').attr('dy', '0.35em').attr('fill', '#4d4d4d');
    });
    g.selectAll('circle.pt').data(cfg.pts).enter().append('circle').attr('class', 'pt')
        .attr('cx', function(d) { return xS(d[1]); }).attr('cy', function(d) { return yS(d[0]); })
        .attr('r', 2.7).attr('fill', function(d) { return d[2] === 'I' ? ORANGE : BLUE; });
    var band = d3.area().curve(d3.curveCatmullRom)
        .y(function(d) { return yS(d[0]); }).x0(function(d) { return xS(d[2]); }).x1(function(d) { return xS(d[3]); });
    g.append('path').datum(cfg.fit).attr('d', band).attr('fill', '#c8b49c').attr('fill-opacity', 0.55);
    var fl = d3.line().curve(d3.curveCatmullRom).y(function(d) { return yS(d[0]); }).x(function(d) { return xS(d[1]); });
    g.append('path').datum(cfg.fit).attr('d', fl).attr('fill', 'none').attr('stroke', '#555').attr('stroke-width', 1.2);
    rtext(g, 930, cfg.bottom - 14, -90, cfg.letter, 14).attr('text-anchor', 'middle').attr('dy', '0.35em').attr('font-weight', 'bold');
    var r2 = rtext(g, 933, cfg.bottom - 35, -90, '', 10.5).attr('dy', '0.35em').attr('fill', '#777');
    r2.append('tspan').text('R² = ' + cfg.r2);
    rtext(g, 933, cfg.bottom - 86, -90, cfg.name, 13).attr('dy', '0.35em').attr('font-style', 'italic');
    rtext(g, 1135, (cfg.top + cfg.bottom) / 2 + 20, -90, 'CWC (%volume)', 13).attr('text-anchor', 'middle').attr('dy', '0.35em');
    rtext(g, 1008, cfg.bottom + 21, 180, 'abundance (%)', 13).attr('text-anchor', 'middle').attr('dy', '0.35em');
}
inset({top: 173.7, bottom: 616.2, abDomain: [-0.786, 7.95], abTicks: [0, 2, 4, 6], abMinor: [1, 3, 5, 7],
       pts: mediterraneaPts, fit: mediterraneaFit, letter: 'c', r2: '0.36', name: 'U. mediterranea'});
inset({top: 649.8, bottom: 1089, abDomain: [-1.09, 15.58], abTicks: [0, 5, 10, 15], abMinor: [2.5, 7.5, 12.5],
       pts: marginataPts, fit: marginataFit, letter: 'b', r2: '0.36', name: 'B. marginata'});
inset({top: 1131.2, bottom: 1570.4, abDomain: [-0.708, 7.03], abTicks: [0, 2, 4, 6], abMinor: [1, 3, 5, 7],
       pts: striataPts, fit: striataFit, letter: 'a', r2: '0.40', name: 'B. striata'});

// legend
(function() {
    var g = svg.append('g');
    rtext(g, 985, 122, -90, 'Sample', 13).attr('dy', '0.35em').attr('font-weight', 'bold');
    g.append('rect').attr('x', 1003).attr('y', 128).attr('width', 48).attr('height', 26).attr('fill', '#ebebeb');
    g.append('circle').attr('cx', 1015).attr('cy', 141).attr('r', 3).attr('fill', ORANGE);
    g.append('circle').attr('cx', 1039).attr('cy', 141).attr('r', 3).attr('fill', BLUE);
    rtext(g, 1015, 122, -90, 'Interglacial', 12).attr('dy', '0.35em');
    rtext(g, 1039, 122, -90, 'Glacial', 12).attr('dy', '0.35em');
})();
</script>
</body>
</html>
